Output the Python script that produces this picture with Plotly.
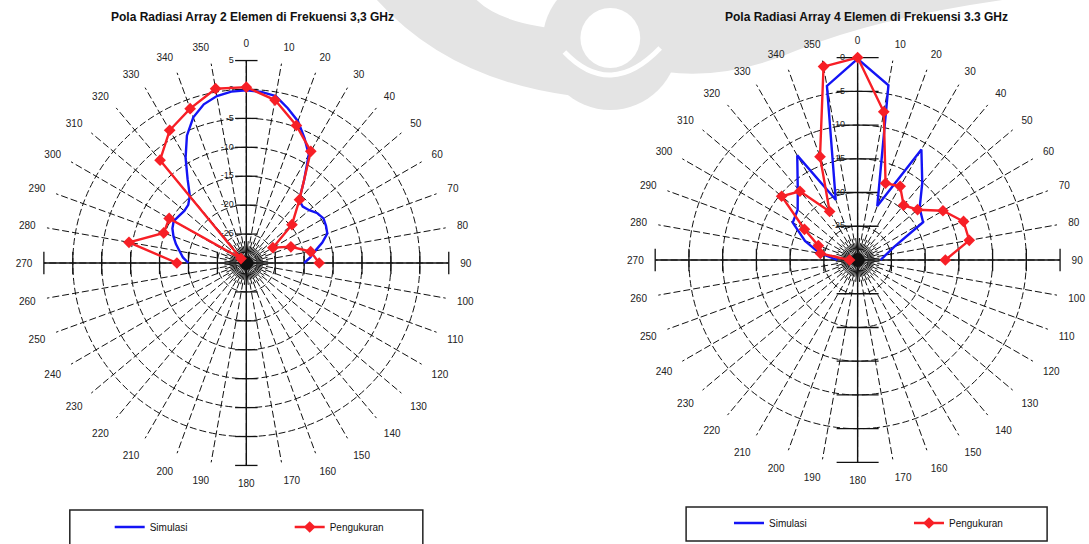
import plotly.graph_objects as go

W, H = 1089, 544

# ---------------- data: array 2 elemen (dB) ----------------
sim2_theta = [270, 275, 280, 285, 290, 295, 300, 305, 310, 315, 320, 325, 330, 335,
              340, 345, 350, 355, 0, 5, 10, 15, 20, 25, 30, 35, 40, 45, 50, 55, 60,
              65, 70, 75, 80, 85, 90]
sim2_db = [-20.0, -19.0, -18.3, -17.4, -16.6, -15.9, -15.5, -15.8, -16.0, -15.8, -14.8,
           -12.3, -9.0, -5.7, -3.2, -1.6, -0.7, -0.25, -0.15, -0.3, -0.7, -2.3, -3.9,
           -6.2, -8.4, -12.6, -15.8, -16.2, -15.8, -15.0, -14.6, -14.8, -15.1, -16.4,
           -17.9, -18.9, -20.0]
ukur2_theta = [270, 280, 290, 300, 310, 320, 330, 340, 350, 0, 10, 20, 30, 40, 50,
               60, 70, 80, 90]
ukur2_db = [-18.0, -9.4, -14.8, -14.6, -28.8, -6.8, -3.5, -1.6, 0.6, 0.4, -1.4, -4.7,
            -7.7, -15.7, -19.7, -24.7, -21.8, -18.7, -17.4]

# ---------------- data: array 4 elemen (dB) ----------------
sim4_theta = [270, 280, 290, 300, 310, 320, 330, 340, 350, 0, 10, 20, 30, 40, 50,
              60, 70, 80, 90]
sim4_db = [-27.0, -24.3, -21.7, -18.9, -18.4, -16.2, -12.1, -20.5, -3.8, -0.2, -3.7,
           -21.5, -11.1, -15.1, -18.0, -18.8, -24.2, -25.8, -26.6]
ukur4_theta = [270, 280, 290, 300, 310, 320, 330, 340, 350, 0, 10, 20, 30, 40, 50,
               60, 70, 80, 90]
ukur4_db = [-28.8, -24.4, -23.8, -20.9, -15.3, -16.7, -21.7, -13.7, -0.9, 0.0, -7.7,
            -17.9, -17.4, -19.4, -18.4, -15.4, -13.3, -13.2, -17.0]

# ---------------- axis settings ----------------
angle_ticks = [0, 10, 20, 30, 40, 50, 60, 70, 80, 90, 100, 110, 120, 130, 140, 150,
               160, 170, 180, 190, 200, 210, 220, 230, 240, 250, 260, 270, 280, 290,
               300, 310, 320, 330, 340, 350]
inner_spokes = [5, 15, 25, 35, 45, 55, 65, 75, 85, 95, 105, 115, 125, 135, 145, 155,
                165, 175, 185, 195, 205, 215, 225, 235, 245, 255, 265, 275, 285, 295,
                305, 315, 325, 335, 345, 355]
rings2 = [-25, -20, -15, -10, -5, 0, 5]
rings4 = [-25, -20, -15, -10, -5, 0]
rmin2, rmax2 = -30, 5
rmin4, rmax4 = -30, 0
RAD = 203  # outer ring radius in px

BLUE = "#1414f5"
RED = "#f71f26"
GREY_WM = "#e4e4e4"
FONT = "Liberation Sans, Arial, sans-serif"
PAD = "\u00a0" * 5


def px_x(v):
    return v / W


def px_y(v):
    return 1 - v / H


fig = go.Figure()


def add_chart(sub, leg, rmin, rmax, rings, tick_v, tick_h,
              s_theta, s_db, m_theta, m_db):
    per_px = (rmax - rmin) / RAD
    # short spokes crowding the centre
    rr, tt = [], []
    for a in inner_spokes:
        rr += [rmin, rmin + 22 * per_px, None]
        tt += [a, a, None]
    fig.add_trace(go.Scatterpolar(r=rr, theta=tt, mode="lines", subplot=sub,
                                  line=dict(color="#111", width=1),
                                  showlegend=False, hoverinfo="skip"))
    # solid 0-180 and 90-270 axes
    fig.add_trace(go.Scatterpolar(
        r=[rmax, rmin, rmax, None, rmax, rmin, rmax],
        theta=[0, 0, 180, None, 90, 90, 270],
        mode="lines", subplot=sub, line=dict(color="#111", width=1.4),
        showlegend=False, hoverinfo="skip"))
    # tick marks across the axes
    fig.add_trace(go.Scatterpolar(
        r=rings + rings, theta=[0] * len(rings) + [180] * len(rings),
        mode="markers", subplot=sub,
        marker=dict(symbol="line-ew", size=tick_v, line=dict(color="#111", width=1.3)),
        showlegend=False, hoverinfo="skip"))
    fig.add_trace(go.Scatterpolar(
        r=rings + rings, theta=[90] * len(rings) + [270] * len(rings),
        mode="markers", subplot=sub,
        marker=dict(symbol="line-ns", size=tick_h, line=dict(color="#111", width=1.3)),
        showlegend=False, hoverinfo="skip"))
    # value labels beside the upper axis
    fig.add_trace(go.Scatterpolar(
        r=rings, theta=[0] * len(rings), mode="text", subplot=sub,
        text=[f"{v}{PAD}" for v in rings], textposition="middle left",
        textfont=dict(size=9, color="#222", family=FONT), cliponaxis=False,
        showlegend=False, hoverinfo="skip"))
    # dark hub
    fig.add_trace(go.Scatterpolar(r=[rmin], theta=[0], mode="markers", subplot=sub,
                                  marker=dict(color="#111", size=13, symbol="circle"),
                                  showlegend=False, hoverinfo="skip"))
    fig.add_trace(go.Scatterpolar(r=s_db, theta=s_theta, mode="lines", name="Simulasi",
                                  subplot=sub, legend=leg,
                                  line=dict(color=BLUE, width=2.4)))
    fig.add_trace(go.Scatterpolar(r=m_db, theta=m_theta, mode="lines+markers",
                                  name="Pengukuran", subplot=sub, legend=leg,
                                  line=dict(color=RED, width=2.4),
                                  marker=dict(symbol="diamond", size=9, color=RED)))


add_chart("polar", "legend", rmin2, rmax2, rings2, 16, 16,
          sim2_theta, sim2_db, ukur2_theta, ukur2_db)
add_chart("polar2", "legend2", rmin4, rmax4, rings4, 30, 16,
          sim4_theta, sim4_db, ukur4_theta, ukur4_db)


def polar_layout(cx, cy, rmin, rmax, rings):
    return dict(
        domain=dict(x=[px_x(cx - RAD), px_x(cx + RAD)],
                    y=[px_y(cy + RAD), px_y(cy - RAD)]),
        bgcolor="rgba(0,0,0,0)",
        angularaxis=dict(rotation=90, direction="clockwise", tickmode="array",
                         tickvals=angle_ticks, ticktext=[str(a) for a in angle_ticks],
                         showgrid=True, gridcolor="#111", gridwidth=1,
                         griddash="7px,3px", showline=False,
                         ticks="outside", ticklen=9, tickcolor="rgba(0,0,0,0)",
                         tickfont=dict(size=10, color="#222", family=FONT)),
        radialaxis=dict(range=[rmin, rmax], tickmode="array", tickvals=rings,
                        showticklabels=False, angle=90,
                        showgrid=True, gridcolor="#111",
                        gridwidth=1, griddash="7px,3px", showline=False, ticks=""),
    )


def wm_path(cmds):
    # pixel-space path -> paper coordinates
    out = []
    for tok in cmds:
        if isinstance(tok, str):
            out.append(tok)
        else:
            out.append(f"{px_x(tok[0]):.4f},{px_y(tok[1]):.4f}")
    return " ".join(out)


watermark = [
    # left sweep
    wm_path(["M", (378, 0), "L", (478, 0), "Q", (505, 26), (575, 30), "L", (575, 96),
             "Q", (450, 80), (378, 0), "Z"]),
    # right sweep
    wm_path(["M", (660, 0), "L", (1005, 0), "Q", (880, 18), (800, 50),
             "Q", (730, 80), (668, 72), "Z"]),
]

shapes = [
    dict(type="path", path=p, xref="paper", yref="paper", fillcolor=GREY_WM,
         line=dict(width=0), layer="below") for p in watermark
]
shapes += [
    dict(type="circle", xref="paper", yref="paper", x0=px_x(544), x1=px_x(680),
         y0=px_y(110), y1=px_y(-26), fillcolor=GREY_WM, line=dict(width=0),
         layer="below"),
    dict(type="circle", xref="paper", yref="paper", x0=px_x(582), x1=px_x(642),
         y0=px_y(68), y1=px_y(8), fillcolor="white", line=dict(width=0), layer="below"),
    dict(type="path", xref="paper", yref="paper", layer="below",
         path=wm_path(["M", (566, 52), "Q", (612, 100), (662, 48)]),
         line=dict(color="white", width=5)),
    dict(type="rect", xref="paper", yref="paper", x0=px_x(70), x1=px_x(424),
         y0=px_y(552), y1=px_y(510), line=dict(color="#222", width=1.5)),
    dict(type="rect", xref="paper", yref="paper", x0=px_x(688), x1=px_x(1050),
         y0=px_y(541), y1=px_y(507), line=dict(color="#222", width=1.5)),
]

fig.update_layout(
    width=W, height=H, margin=dict(l=0, r=0, t=0, b=0),
    paper_bgcolor="white", plot_bgcolor="white",
    font=dict(family=FONT, color="#111"),
    polar=polar_layout(247, 263, rmin2, rmax2, rings2),
    polar2=polar_layout(860, 260, rmin4, rmax4, rings4),
    legend=dict(orientation="h", x=px_x(110), y=px_y(527), xanchor="left",
                yanchor="middle", bgcolor="rgba(0,0,0,0)", borderwidth=0,
                entrywidth=135, font=dict(size=10, family=FONT)),
    legend2=dict(orientation="h", x=px_x(731), y=px_y(523), xanchor="left",
                 yanchor="middle", bgcolor="rgba(0,0,0,0)", borderwidth=0,
                 entrywidth=135, font=dict(size=10, family=FONT)),
    showlegend=True,
    annotations=[
        dict(text="<b>Pola Radiasi Array 2 Elemen di Frekuensi 3,3 GHz</b>",
             x=px_x(253), y=px_y(17), xref="paper", yref="paper", showarrow=False,
             xanchor="center", yanchor="middle",
             font=dict(size=12, family=FONT, color="#111")),
        dict(text="<b>Pola Radiasi Array 4 Elemen di Frekuensi 3.3 GHz</b>",
             x=px_x(869), y=px_y(17), xref="paper", yref="paper", showarrow=False,
             xanchor="center", yanchor="middle",
             font=dict(size=12, family=FONT, color="#111")),
    ],
    shapes=shapes,
)

fig.write_html("out.html")
